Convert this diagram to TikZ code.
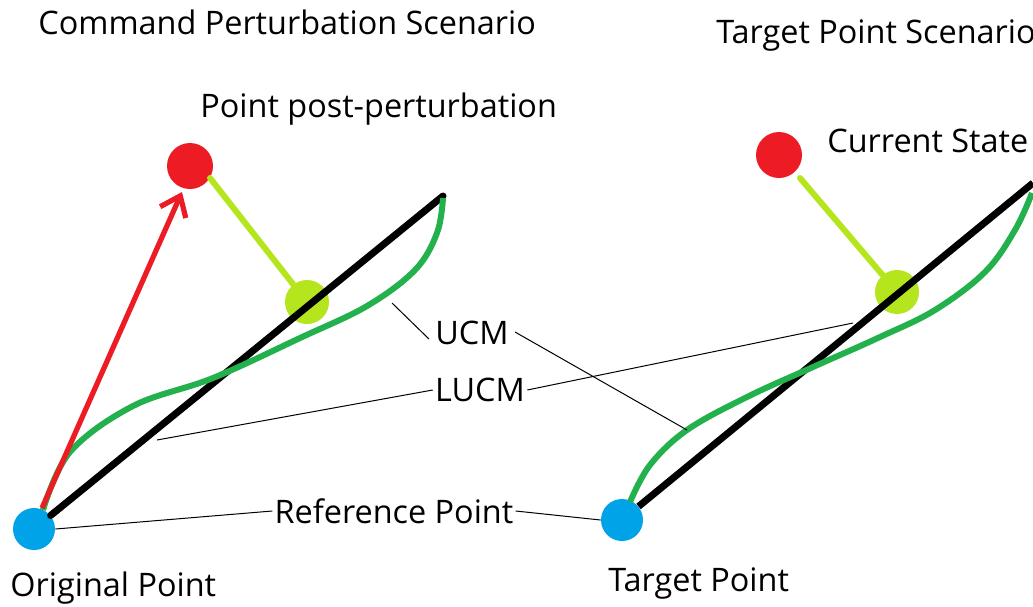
\documentclass[tikz,border=0pt]{standalone}
\usepackage{fontspec}
\setmainfont{Open Sans}
\usetikzlibrary{arrows.meta}
\definecolor{dotred}{HTML}{ED1C24}
\definecolor{dotblue}{HTML}{00A2E8}
\definecolor{dotlime}{HTML}{B5E61D}
\definecolor{ucmgreen}{HTML}{22B14C}
\tikzset{
	dot/.style={circle,fill,inner sep=0pt,minimum size=22pt},
	lbl/.style={inner sep=1pt,font=\fontsize{16.2}{19}\selectfont},
	leader/.style={line width=0.5pt},
}
\begin{document}
\begin{tikzpicture}[x=0.5pt,y=-0.5pt]
	\useasboundingbox (0,0) rectangle (1033,606);
	\clip (0,0) rectangle (1033,606);
	% left panel
	\node[dot,dotblue,minimum size=21pt] (orig) at (34,529) {};
	\node[dot,dotred,minimum size=23pt] (post) at (190,166) {};
	\node[dot,dotlime] (proj1) at (307,302) {};
	\coordinate (end1) at (443,196);
	\draw[line width=3.5pt,black,line cap=round] (orig) -- (end1);
	\draw[line width=3pt,ucmgreen] plot[smooth,tension=0.6] coordinates {(43,510) (70,452) (133,406) (213,378) (300,338) (367,306) (415,270) (437,233) (443,198)};
	\draw[line width=2.6pt,dotred,-{Straight Barb[length=9pt,width=14pt]}] (42,508) -- (182,192);
	\draw[line width=3pt,dotlime,line cap=round] (210,178) -- (proj1);
	% right panel
	\node[dot,dotblue,minimum size=21pt] (targ) at (622,520) {};
	\node[dot,dotred,minimum size=23pt] (cur) at (779,155) {};
	\node[dot,dotlime] (proj2) at (897,292) {};
	\coordinate (end2) at (1033,183);
	\draw[line width=3.5pt,black] (targ) -- (end2);
	\draw[line width=3pt,ucmgreen] plot[smooth,tension=0.6] coordinates {(630,502) (650,465) (687,430) (747,397) (813,367) (880,337) (935,310) (985,272) (1015,230) (1032,193)};
	\draw[line width=3pt,dotlime,line cap=round] (800,178) -- (proj2);
	% labels
	\node[lbl,anchor=west] (title1) at (36,22) {Command Perturbation Scenario};
	\node[lbl,anchor=west] (title2) at (714,35) {Target Point Scenario};
	\node[lbl,anchor=west] (postlbl) at (198,109) {Point post-perturbation};
	\node[lbl,anchor=west] (curlbl) at (825,141) {Current State};
	\node[lbl,anchor=west] (origlbl) at (8,588) {Original Point};
	\node[lbl,anchor=west] (targlbl) at (606,583) {Target Point};
	\node[lbl] (ucm) at (472,333) {UCM};
	\node[lbl] (lucm) at (480,390) {LUCM};
	\node[lbl] (ref) at (394,511) {Reference Point};
	% leaders
	\coordinate (u1) at (392,303);
	\coordinate (u2) at (687,430);
	\coordinate (l1) at (157,440);
	\coordinate (l2) at (853,323);
	\draw[leader] (ucm.west) ++(-4,6) -- (u1);
	\draw[leader] (ucm.east) ++(4,-1) -- (u2);
	\draw[leader] (lucm.west) -- (l1);
	\draw[leader] (lucm.east) -- (l2);
	\draw[leader] (ref.west) -- (orig.east);
	\draw[leader] (ref.east) -- (targ.west);
\end{tikzpicture}
\end{document}
